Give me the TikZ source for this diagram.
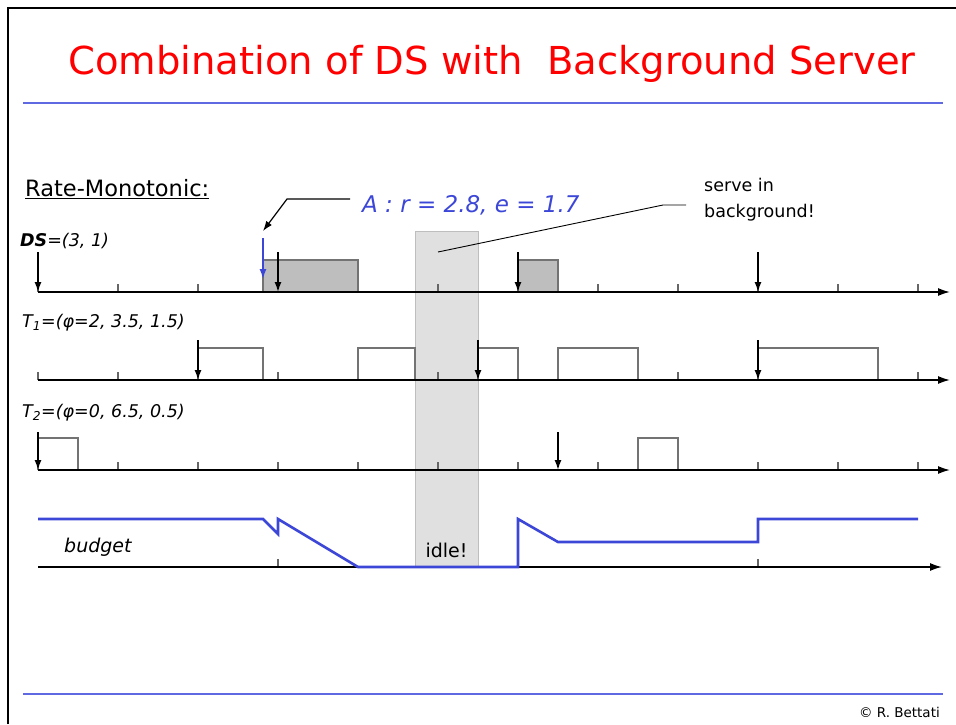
\documentclass[tikz,border=0pt]{standalone}
\usepackage{fontspec}
\setmainfont{DejaVu Sans}
\usetikzlibrary{arrows.meta, positioning}
\definecolor{TitleRed}{RGB}{255,0,0}
\definecolor{RuleBlue}{RGB}{95,105,225}
\definecolor{ReqBlue}{RGB}{60,70,215}
\definecolor{IdleGray}{RGB}{224,224,224}
\definecolor{JobGray}{RGB}{190,190,190}

\begin{document}
\begin{tikzpicture}[x=1pt, y=-1pt,
    axis/.style={-{Latex[length=12pt, width=8pt]}, line width=1.6pt},
    tickmark/.style={line width=1.4pt, draw=black!60},
    release/.style={-{Latex[length=10pt, width=7pt]}, line width=1.5pt},
    job/.style={draw=black!55, line width=1.3pt, fill=white},
    dsjob/.style={job, fill=JobGray},
    budget/.style={draw=ReqBlue, line width=2.6pt, line join=miter},
    tasklabel/.style={anchor=west, inner sep=0pt, font=\fontsize{17.5}{20}\selectfont\itshape},
    note/.style={inner sep=0pt, font=\fontsize{17.5}{26}\selectfont, align=left}
  ]
    \useasboundingbox (0,0) rectangle (956,724);

    % frame, title and rules
    \draw[line width=2pt] (8,724) -- (8,8) -- (956,8);
    \node[text=TitleRed, font=\fontsize{38.5}{44}\selectfont] (title) at (492,64) {Combination of DS with \ Background Server};
    \draw[RuleBlue, line width=2pt] (23,103) -- (943,103);
    \draw[RuleBlue, line width=2pt] (23,694) -- (943,694);
    \node[anchor=west, inner sep=0pt, font=\fontsize{22.5}{26}\selectfont] (rm) at (25,189) {\underline{Rate-Monotonic:}};

    % idle interval
    \node[draw=JobGray, fill=IdleGray, line width=1pt, minimum width=63pt, minimum height=336pt, inner sep=0pt] (idle) at (446.5,399) {};
    \node[font=\fontsize{19}{20}\selectfont] (idletxt) at (446.5,550) {idle!};

    % ticks
    \foreach \y in {292,380,470}
      \foreach \t in {0,...,11}
        \draw[tickmark] ({38+80*\t},\y) -- ++(0,-8);
    \foreach \t in {3,9}
      \draw[tickmark] ({38+80*\t},567) -- ++(0,-8);

    % jobs
    \draw[dsjob] (263,292) -- (263,260) -- (358,260) -- (358,292);
    \draw[dsjob] (518,292) -- (518,260) -- (558,260) -- (558,292);
    \foreach \a/\b in {198/263, 358/415, 478/518, 558/638, 758/878}
      \draw[job] (\a,380) -- (\a,348) -- (\b,348) -- (\b,380);
    \foreach \a/\b in {38/78, 638/678}
      \draw[job] (\a,470) -- (\a,438) -- (\b,438) -- (\b,470);

    % axes
    \foreach \y in {292,380,470}
      \draw[axis] (38,\y) -- (950,\y);
    \draw[axis] (38,567) -- (942,567);

    % releases
    \foreach \x in {38,278,518,758}
      \draw[release] (\x,252) -- (\x,292);
    \foreach \x in {198,478,758}
      \draw[release] (\x,340) -- (\x,380);
    \foreach \x in {38,558}
      \draw[release] (\x,432) -- (\x,470);
    \draw[release, ReqBlue] (263,238) -- (263,279);

    % labels
    \node[tasklabel] (dslab) at (20,241) {\textbf{DS}=(3, 1)};
    \node[tasklabel] (t1lab) at (22,323) {T\textsubscript{1}=(φ=2, 3.5, 1.5)};
    \node[tasklabel] (t2lab) at (22,413) {T\textsubscript{2}=(φ=0, 6.5, 0.5)};
    \node[tasklabel, font=\fontsize{19}{20}\selectfont\itshape] (budgetlab) at (64,547) {budget};

    % aperiodic request
    \node[anchor=west, inner sep=0pt, text=ReqBlue, font=\fontsize{23}{26}\selectfont\itshape] (req) at (362,205) {A : r = 2.8, e = 1.7};
    \coordinate (reqstart) at (350,199);
    \coordinate (reqkink) at (287,199);
    \coordinate (reqend) at (263,231);
    \draw[-{Latex[length=10pt, width=7pt]}, line width=1.2pt] (reqstart) -- (reqkink) -- (reqend);

    % background note
    \node[note, anchor=north west] (serve) at (704,178) {serve in\\background!};
    \coordinate (servept) at (438,252);
    \coordinate (servekink) at (663,205);
    \coordinate (serveend) at (686,205);
    \draw[line width=0.9pt] (servept) -- (servekink) -- (serveend);

    % budget
    \draw[budget] (38,519) -- (263,519) -- (278,534) -- (278,519) -- (358,567) -- (518,567) -- (518,519) -- (558,542) -- (758,542) -- (758,519) -- (918,519);

    \node[anchor=east, inner sep=0pt, font=\fontsize{13.5}{15}\selectfont] (copy) at (940,712) {© R. Bettati};
  \end{tikzpicture}
\end{document}
